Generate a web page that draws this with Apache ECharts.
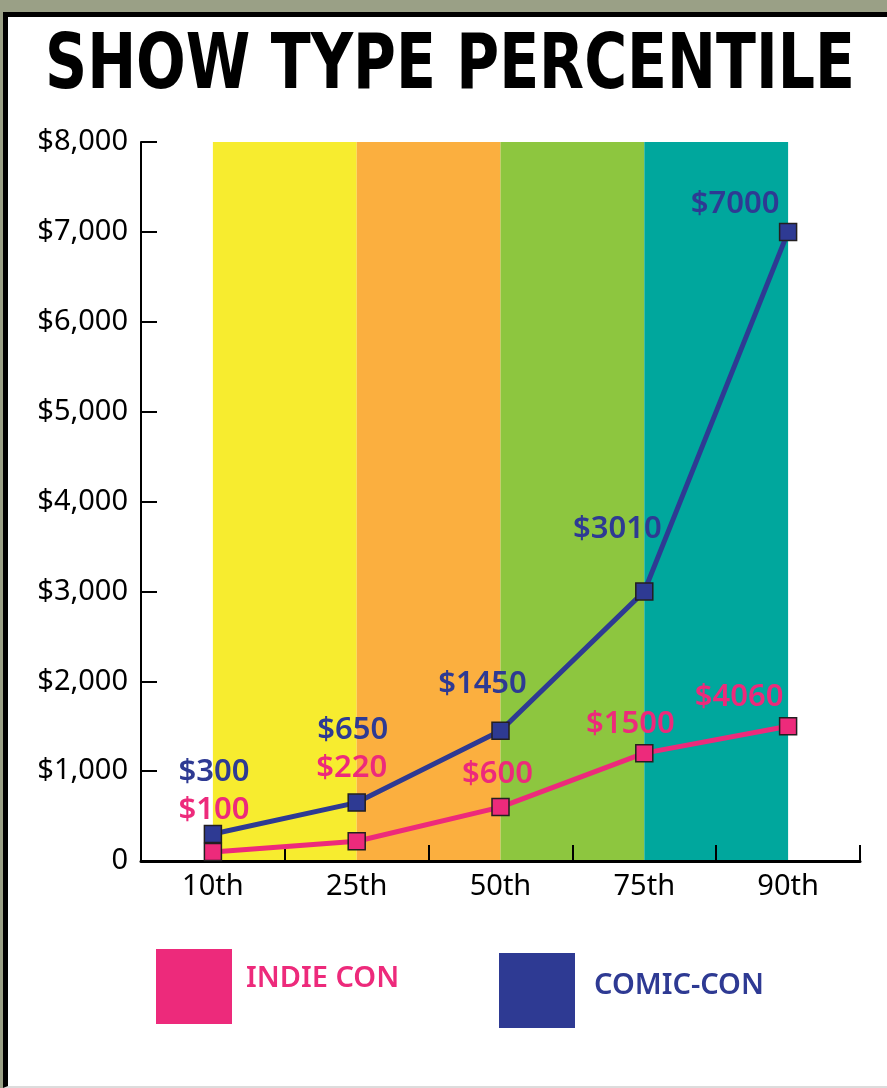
<!DOCTYPE html>
<html>
<head>
<meta charset="utf-8">
<script src="https://cdn.jsdelivr.net/npm/echarts@6/dist/echarts.min.js"></script>
<style>
  html, body { margin: 0; padding: 0; }
  body { width: 887px; height: 1088px; background: #9aa086; position: relative; overflow: hidden; }
  #frame { position: absolute; left: 3px; top: 12px; width: 900px; height: 1069px;
           background: #ffffff; border-left: 5px solid #000; border-top: 5px solid #000;
           border-bottom: 2px solid #dcdcdc; }
  #chart { position: absolute; left: 0; top: 0; width: 887px; height: 1088px; }
</style>
</head>
<body>
<div id="frame"></div>
<div id="chart"></div>
<script>
// ---- data ----
const categories = ['10th', '25th', '50th', '75th', '90th'];
const indieValues = [100, 220, 600, 1200, 1500];
const comicValues = [300, 650, 1450, 3000, 7000];
const indieLabels = ['$100', '$220', '$600', '$1500', '$4060'];
const comicLabels = ['$300', '$650', '$1450', '$3010', '$7000'];
const seriesNames = ['INDIE CON', 'COMIC-CON'];
const titleText = 'SHOW TYPE PERCENTILE';

// ---- style ----
const PINK = '#ED2A7B';
const NAVY = '#2E3A93';
const bandColors = ['#F7EC2F', '#FBAF3F', '#8DC63F', '#00A79D'];
const indieOffsets = [[1, -42], [-5, -73], [-3, -33], [-14, -29], [-49, -29]];
const comicOffsets = [[1, -62], [-4, -72], [-18, -47], [-27, -62], [-53, -28]];
const FONT = '"Noto Sans", "Open Sans", sans-serif';
const TITLE_FONT = 'bold 76px "DejaVu Sans Condensed", "DejaVu Sans", sans-serif';

// fit title to its width in the reference
const mctx = document.createElement('canvas').getContext('2d');
mctx.font = TITLE_FONT;
const titleScale = 810 / mctx.measureText(titleText).width;

const bands = [];
for (let i = 0; i < categories.length - 1; i++) {
  bands.push([
    { xAxis: categories[i], yAxis: 8000, itemStyle: { color: bandColors[i] } },
    { xAxis: categories[i + 1], yAxis: 0 }
  ]);
}

function mkSeries(name, values, labels, offsets, color, z) {
  return {
    name: name,
    type: 'line',
    z: z,
    data: values.map((v, i) => ({ value: v, label: { offset: offsets[i] } })),
    symbol: 'rect',
    symbolSize: 17,
    lineStyle: { color: color, width: 5 },
    itemStyle: { color: color, borderColor: '#231F20', borderWidth: 1.5 },
    label: {
      show: true, position: 'inside',
      formatter: p => labels[p.dataIndex],
      color: color, fontSize: 31, fontWeight: 600, fontFamily: FONT
    },
    emphasis: { disabled: true },
    animation: false
  };
}

function legendText(color, shift, left) {
  return {
    rich: {
      t: {
        color: color, fontSize: 29, fontWeight: 600, fontFamily: FONT,
        padding: [0, 0, shift, left]
      }
    }
  };
}

const chart = echarts.init(document.getElementById('chart'), null, { renderer: 'canvas' });
chart.setOption({
  backgroundColor: 'transparent',
  animation: false,
  graphic: [{
    type: 'text',
    x: 45, y: 68,
    scaleX: titleScale,
    style: {
      text: titleText, font: TITLE_FONT, fill: '#000',
      align: 'left', verticalAlign: 'middle'
    }
  }],
  grid: { left: 141, right: 27, top: 142, bottom: 227, containLabel: false },
  xAxis: {
    type: 'category',
    data: categories,
    boundaryGap: true,
    z: 3,
    axisLine: { lineStyle: { color: '#000', width: 3 } },
    axisTick: { show: true, inside: true, length: 16, lineStyle: { color: '#000', width: 2 } },
    axisLabel: { color: '#000', fontSize: 29, margin: 11, fontFamily: FONT }
  },
  yAxis: {
    type: 'value',
    min: 0, max: 8000, interval: 1000,
    splitLine: { show: false },
    z: 3,
    axisLine: { show: true, lineStyle: { color: '#000', width: 2 } },
    axisTick: { show: true, inside: true, length: 16, lineStyle: { color: '#000', width: 2 } },
    axisLabel: {
      color: '#000', fontSize: 29, margin: 13, fontFamily: FONT,
      formatter: v => v === 0 ? '0' : '$' + v.toLocaleString('en-US')
    }
  },
  legend: [
    {
      data: [seriesNames[0]], left: 156, top: 949, padding: 0,
      icon: 'rect', itemWidth: 76, itemHeight: 75,
      itemStyle: { borderWidth: 0 },
      selectedMode: false,
      formatter: '{t|{name}}',
      textStyle: legendText(PINK, 16, 9)
    },
    {
      data: [seriesNames[1]], left: 499, top: 953, padding: 0,
      icon: 'rect', itemWidth: 76, itemHeight: 75,
      itemStyle: { borderWidth: 0 },
      selectedMode: false,
      formatter: '{t|{name}}',
      textStyle: legendText(NAVY, 10, 14)
    }
  ],
  series: [
    {
      name: 'bands', type: 'line', data: [], z: 0, silent: true,
      markArea: { silent: true, data: bands }
    },
    mkSeries(seriesNames[1], comicValues, comicLabels, comicOffsets, NAVY, 5),
    mkSeries(seriesNames[0], indieValues, indieLabels, indieOffsets, PINK, 6)
  ]
});
</script>
</body>
</html>
